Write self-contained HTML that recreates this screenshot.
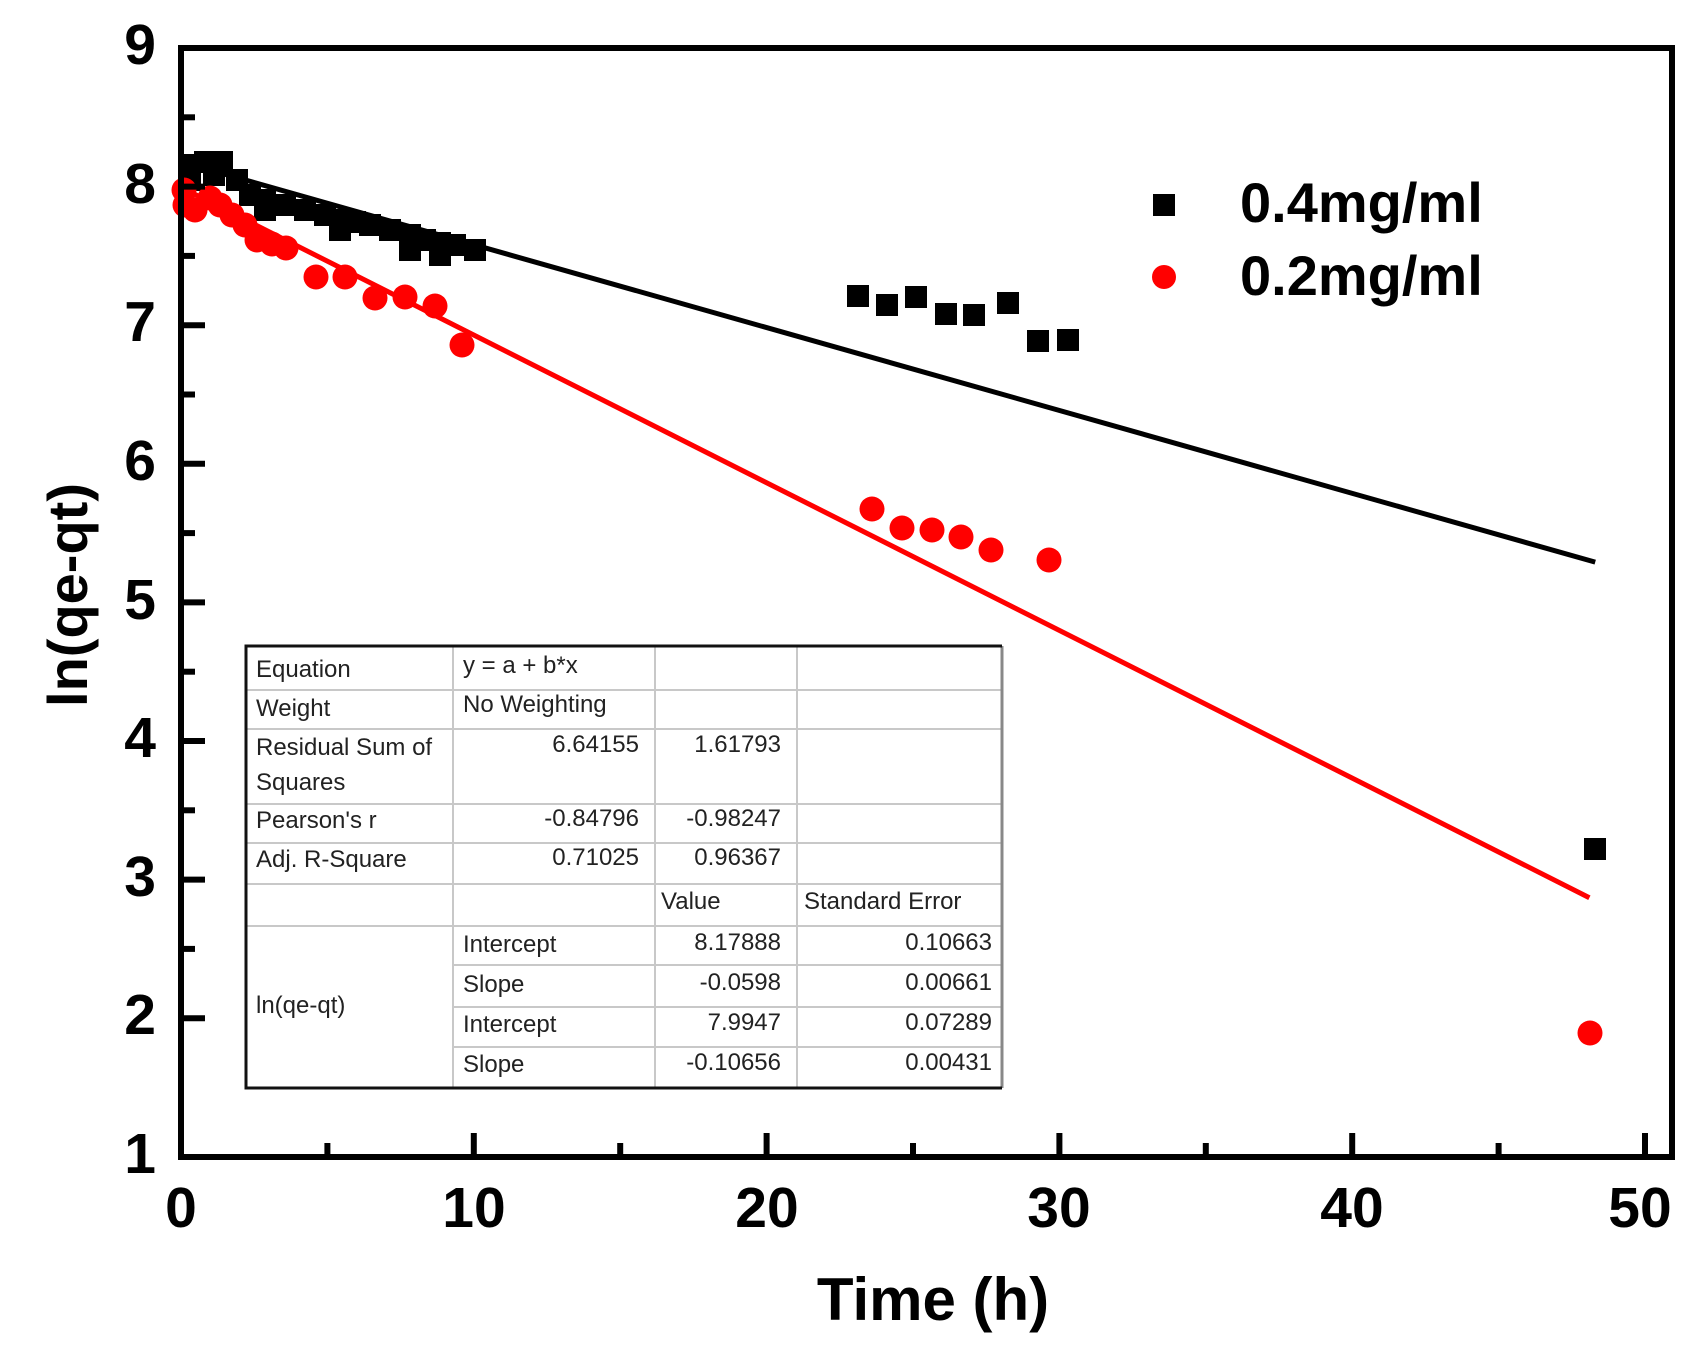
<!DOCTYPE html>
<html><head><meta charset="utf-8"><style>
html,body{margin:0;padding:0;background:#fff;}
svg{display:block;}
text{font-family:"Liberation Sans",Arial,sans-serif;}
.tk{font-size:57px;font-weight:bold;}
.tb{font-size:24px;fill:#222;}
</style></head><body>
<svg id="s" width="1688" height="1361" viewBox="0 0 1688 1361" xmlns="http://www.w3.org/2000/svg">
<rect width="1688" height="1361" fill="#fff"/>
<g id="plot"></g>
<!-- axes -->
<rect x="181" y="48" width="1491" height="1109" fill="none" stroke="#000" stroke-width="6"/>
<g id="ticks" stroke="#000" stroke-width="6"></g>
<!-- y labels -->
<g class="tk" text-anchor="end">
<text x="156" y="64">9</text>
<text x="156" y="203">8</text>
<text x="156" y="341">7</text>
<text x="156" y="480">6</text>
<text x="156" y="619">5</text>
<text x="156" y="757">4</text>
<text x="156" y="896">3</text>
<text x="156" y="1034">2</text>
<text x="156" y="1173">1</text>
</g>
<g class="tk" text-anchor="middle">
<text x="181" y="1227">0</text>
<text x="474" y="1227">10</text>
<text x="767" y="1227">20</text>
<text x="1059" y="1227">30</text>
<text x="1352" y="1227">40</text>
<text x="1640" y="1227">50</text>
</g>
<text x="933" y="1320" text-anchor="middle" style="font-size:60px;font-weight:bold">Time (h)</text>
<text transform="translate(87,595) rotate(-90)" text-anchor="middle" style="font-size:56px;font-weight:bold">ln(qe-qt)</text>
<!-- legend -->
<rect x="1153" y="194" width="22" height="22" fill="#000"/>
<circle cx="1164" cy="277" r="12" fill="#f00"/>
<text x="1240" y="222" style="font-size:56px;font-weight:bold">0.4mg/ml</text>
<text x="1240" y="295" style="font-size:56px;font-weight:bold">0.2mg/ml</text>
<!-- table -->
<g>
<rect x="246" y="646" width="756" height="442" fill="#fff"/>
<g stroke="#c8c8c8" stroke-width="2">
<line x1="453" y1="646" x2="453" y2="1088"/>
<line x1="655" y1="646" x2="655" y2="1088"/>
<line x1="797" y1="646" x2="797" y2="1088"/>
<line x1="246" y1="690" x2="1002" y2="690"/>
<line x1="246" y1="729" x2="1002" y2="729"/>
<line x1="246" y1="804" x2="1002" y2="804"/>
<line x1="246" y1="843" x2="1002" y2="843"/>
<line x1="246" y1="884" x2="1002" y2="884"/>
<line x1="246" y1="926" x2="1002" y2="926"/>
<line x1="453" y1="965" x2="1002" y2="965"/>
<line x1="453" y1="1007" x2="1002" y2="1007"/>
<line x1="453" y1="1047" x2="1002" y2="1047"/>
</g>
<line x1="1002" y1="646" x2="1002" y2="1088" stroke="#888" stroke-width="3"/>
<polyline points="1002,646 246,646 246,1088 1002,1088" fill="none" stroke="#111" stroke-width="3"/>
<g class="tb">
<text x="256" y="677">Equation</text>
<text x="463" y="673">y = a + b*x</text>
<text x="256" y="716">Weight</text>
<text x="463" y="712">No Weighting</text>
<text x="256" y="755">Residual Sum of</text>
<text x="256" y="790">Squares</text>
<text x="256" y="828">Pearson's r</text>
<text x="256" y="867">Adj. R-Square</text>
<text x="256" y="1013">ln(qe-qt)</text>
<text x="463" y="952">Intercept</text>
<text x="463" y="992">Slope</text>
<text x="463" y="1032">Intercept</text>
<text x="463" y="1072">Slope</text>
<text x="661" y="909">Value</text>
<text x="804" y="909">Standard Error</text>
</g>
<g class="tb" text-anchor="end">
<text x="639" y="752">6.64155</text>
<text x="781" y="752">1.61793</text>
<text x="639" y="826">-0.84796</text>
<text x="781" y="826">-0.98247</text>
<text x="639" y="865">0.71025</text>
<text x="781" y="865">0.96367</text>
<text x="781" y="950">8.17888</text>
<text x="992" y="950">0.10663</text>
<text x="781" y="990">-0.0598</text>
<text x="992" y="990">0.00661</text>
<text x="781" y="1030">7.9947</text>
<text x="992" y="1030">0.07289</text>
<text x="781" y="1070">-0.10656</text>
<text x="992" y="1070">0.00431</text>
</g>
</g>
</svg>
<script>
(function(){
var NS="http://www.w3.org/2000/svg";
function X(t){return 181+29.28*t;}
function Y(v){return 48+(9-v)*138.6;}
function el(n,a,p){var e=document.createElementNS(NS,n);for(var k in a)e.setAttribute(k,a[k]);p.appendChild(e);return e;}
var tk=document.getElementById("ticks");
for(var i=0;i<=10;i++){var x=X(i*5);if(x>1668)continue;var L=(i%2==0)?24:14;el("line",{x1:x,y1:1157,x2:x,y2:1157-L},tk);}
for(var j=2;j<=16;j++){var y=Y(1+j*0.5);var L2=(j%2==0)?24:14;el("line",{x1:181,y1:y,x2:181+L2,y2:y},tk);}
var p=document.getElementById("plot");
el("line",{x1:X(0),y1:Y(8.17888),x2:X(48.3),y2:Y(8.17888-0.0598*48.3),stroke:"#000","stroke-width":5},p);
el("line",{x1:X(0),y1:Y(7.9947),x2:X(48.1),y2:Y(7.9947-0.10656*48.1),stroke:"#f00","stroke-width":5},p);
var sq=[[190,165],[205,162],[222,162],[190,180],[214,175],[237,180],[250,195],[265,200],[285,205],[265,210],[305,210],[325,215],[340,220],[355,222],[340,230],[370,225],[390,230],[410,235],[425,240],[440,243],[455,245],[475,250],[410,250],[440,255],
[858,296],[887,305],[916,297],[946,314],[974,315],[1008,303],[1038,341],[1068,340],[1595,849]];
sq.forEach(function(c){el("rect",{x:c[0]-11,y:c[1]-11,width:22,height:22,fill:"#000"},p);});
var ci=[[184,190],[195,210],[210,198],[185,205],[220,205],[232,215],[245,225],[257,240],[272,244],[286,248],[316,277],[345,277],[375,298],[405,297],[435,306],[462,345],
[872,509],[902,528],[932,530],[961,537],[991,550],[1049,560],[1590,1033]];
ci.forEach(function(c){el("circle",{cx:c[0],cy:c[1],r:12.5,fill:"#f00"},p);});
})();
</script>
</body></html>
